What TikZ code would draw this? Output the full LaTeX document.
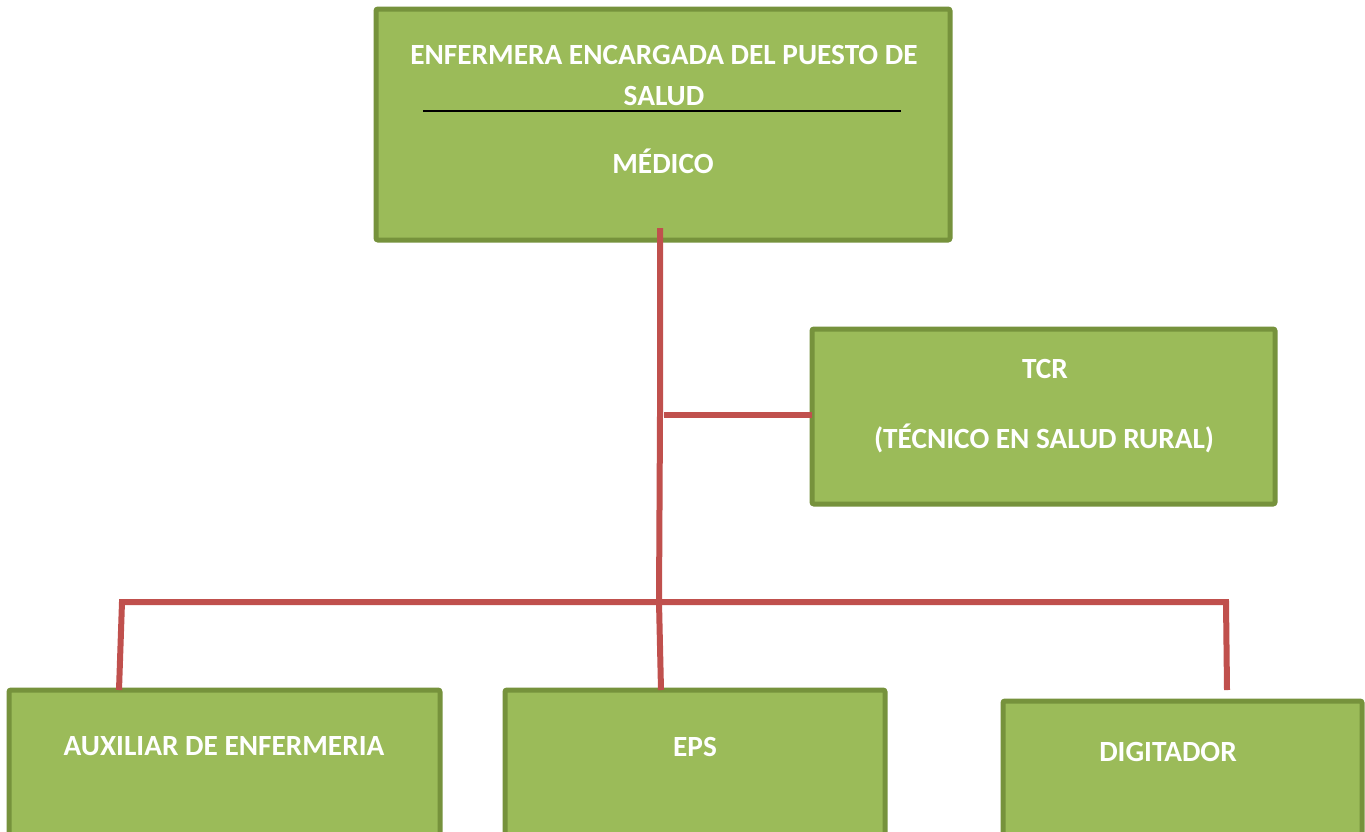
\documentclass[tikz,border=0pt]{standalone}
\usepackage{fontspec}
\setmainfont{Carlito}
\definecolor{boxfill}{RGB}{155,187,89}
\definecolor{boxline}{RGB}{118,146,60}
\definecolor{conn}{RGB}{192,80,77}
\begin{document}
\begin{tikzpicture}[x=1pt,y=-1pt,
  box/.style={draw=boxline,fill=boxfill,line width=5pt,rounded corners=2pt,anchor=north west,inner sep=0pt,outer sep=0pt},
  txt/.style={text=white,font=\fontsize{29.3}{33}\selectfont\bfseries,inner sep=0pt,anchor=base},
  link/.style={draw=conn,line width=6pt}]
\useasboundingbox (0,0) rectangle (1365,831);
\fill[white] (0,0) rectangle (1365,831);
% boxes
\node[box,minimum width=574pt,minimum height=231pt] (top) at (376,9) {};
\node[box,minimum width=463pt,minimum height=175pt] (tcr) at (812,329) {};
\node[box,minimum width=431pt,minimum height=170pt] (aux) at (9,690) {};
\node[box,minimum width=380pt,minimum height=170pt] (eps) at (505,690) {};
\node[box,minimum width=359pt,minimum height=160pt] (dig) at (1003,701) {};
% texts
\node[txt] (t1) at (664,64) {ENFERMERA ENCARGADA DEL PUESTO DE};
\node[txt] (t2) at (664,105) {SALUD};
\draw[black,line width=1.6pt] (423,111) -- (901,111);
\node[txt] (t3) at (663,173) {MÉDICO};
\node[txt] (t4) at (1045,378) {TCR};
\node[txt] (t5) at (1044,448) {(TÉCNICO EN SALUD RURAL)};
\node[txt] (t6) at (224,755) {AUXILIAR DE ENFERMERIA};
\node[txt] (t7) at (695,756) {EPS};
\node[txt] (t8) at (1168,761) {DIGITADOR};
% connector points
\coordinate (c0) at (660,228);
\coordinate (c1) at (660,415);
\coordinate (c2) at (659,602);
\coordinate (bl) at (122,602);
\coordinate (br) at (1226,602);
\coordinate (al) at (119,690);
\coordinate (ae) at (661,690);
\coordinate (ad) at (1227,690);
% connectors
\draw[link] (c0) -- (c1) -- (c2);
\draw[link] ([xshift=4pt]c1) -- (c1 -| tcr.west);
\draw[link] (al) -- (bl) -- (br) -- (ad);
\draw[link] (c2) -- (ae);
\end{tikzpicture}
\end{document}
